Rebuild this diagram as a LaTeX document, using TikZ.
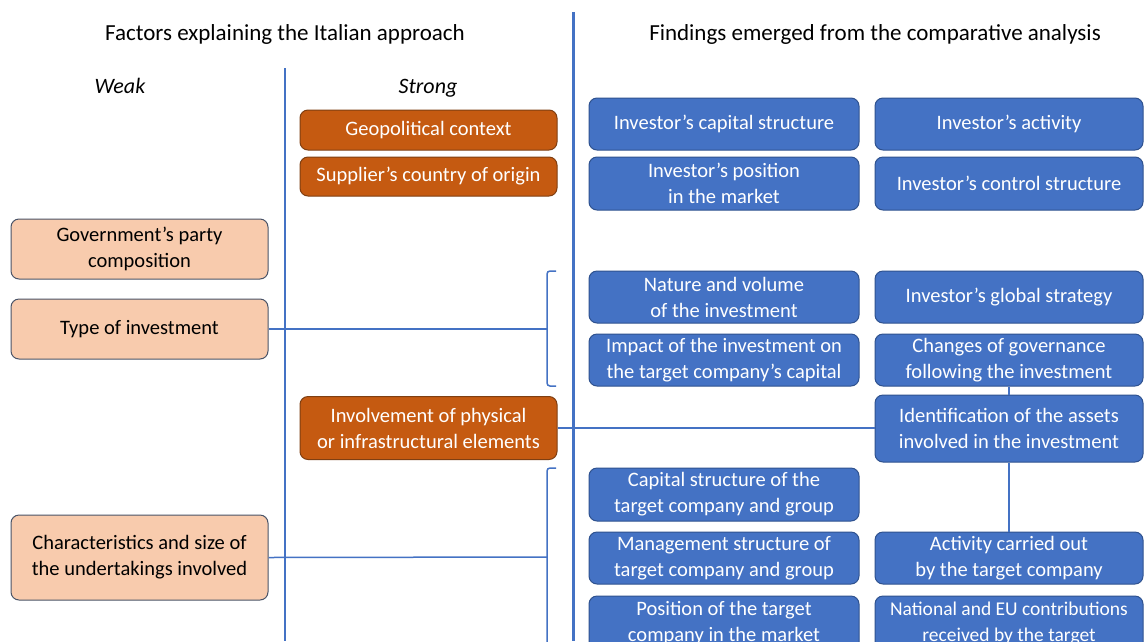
\documentclass[tikz,border=0pt]{standalone}
\usepackage{fontspec}
\setmainfont{Carlito}
\definecolor{fblue}{HTML}{4472C4}
\definecolor{dblue}{HTML}{2F528F}
\definecolor{forange}{HTML}{C55A11}
\definecolor{dorange}{HTML}{7F3F12}
\definecolor{fpeach}{HTML}{F8CBAD}
\definecolor{dpeach}{HTML}{4A5468}
\definecolor{lblue}{HTML}{4472C4}
\begin{document}
\begin{tikzpicture}[x=1pt,y=-1pt,
  basebox/.style={rounded corners=8pt, align=center, inner sep=2pt, line width=1pt,
    font=\fontsize{20.5}{26}\selectfont},
  bluebox/.style={basebox, fill=fblue, draw=dblue, text=white, minimum width=270pt},
  bluewide/.style={basebox, fill=fblue, draw=dblue, text=white, minimum width=268pt},
  orbox/.style={basebox, fill=forange, draw=dorange, text=white, minimum width=257pt},
  peachbox/.style={basebox, fill=fpeach, draw=dpeach, text=black, minimum width=257pt},
  conn/.style={draw=lblue, line width=1.5pt},
  heading/.style={font=\fontsize{23}{27}\selectfont, text=black},
  colhead/.style={font=\fontsize{22}{26}\selectfont\itshape, text=black, anchor=base}
]
\useasboundingbox (0,0) rectangle (1144,641);
\clip (0,0) rectangle (1144,641);
\fill[white] (0,0) rectangle (1144,641);

% headings
\node[heading] (hleft) at (285,34) {Factors explaining the Italian approach};
\node[heading] (hright) at (875,34) {Findings emerged from the comparative analysis};
\node[colhead] (weak) at (120,93) {Weak};
\node[colhead] (strong) at (428,93) {Strong};

% dividers
\coordinate (mdtop) at (573,12);
\coordinate (mdbot) at (573,641);
\coordinate (tdtop) at (285,68);
\coordinate (tdbot) at (285,641);
\draw[draw=lblue, line width=1.2pt] (tdtop) -- (tdbot);
\draw[draw=lblue, line width=3pt] (mdtop) -- (mdbot);

% left factor boxes
\node[orbox, minimum height=40pt] (geo) at (428.5,130) {Geopolitical context};
\node[orbox, minimum height=39pt] (sup) at (428.5,176.5) {Supplier’s country of origin};
\node[peachbox, minimum height=60pt] (gov) at (139.5,249) {Government’s party\\composition};
\node[peachbox, minimum height=60pt] (type) at (139.5,329) {Type of investment};
\node[orbox, minimum height=63pt] (inv) at (428.5,428) {Involvement of physical\\or infrastructural elements};
\node[peachbox, minimum height=85pt] (char) at (139.5,557.5) {Characteristics and size of\\the undertakings involved};

% brackets
\coordinate (b1tip) at (547,329);
\coordinate (b1a) at (556,271);
\coordinate (b1b) at (556,386);
\draw[conn, rounded corners=3pt] (b1a) -- (547,271) -- (547,386) -- (b1b);
\coordinate (b2tip) at (547,557);
\coordinate (b2a) at (556,468);
\draw[conn, rounded corners=3pt] (b2a) -- (547,468) -- (547,660);

% findings boxes
\node[bluebox, minimum height=52pt] (icap) at (724,124) {Investor’s capital structure};
\node[bluewide, minimum height=52pt] (iact) at (1009,124) {Investor’s activity};
\node[bluebox, minimum height=53pt] (ipos) at (724,183.5) {Investor’s position\\in the market};
\node[bluewide, minimum height=53pt] (ictl) at (1009,183.5) {Investor’s control structure};
\node[bluebox, minimum height=52pt] (nat) at (724,297) {Nature and volume\\of the investment};
\node[bluewide, minimum height=52pt] (glob) at (1009,297) {Investor’s global strategy};
\node[bluebox, minimum height=52pt] (imp) at (724,360) {Impact of the investment on\\the target company’s capital};
\node[bluewide, minimum height=52pt] (chg) at (1009,360) {Changes of governance\\following the investment};
\node[bluewide, minimum height=67pt] (ident) at (1009,428.5) {Identification of the assets\\involved in the investment};
\node[bluebox, minimum height=53pt] (tcap) at (724,494.5) {Capital structure of the\\target company and group};
\node[bluebox, minimum height=52pt] (mgmt) at (724,558) {Management structure of\\target company and group};
\node[bluewide, minimum height=52pt] (tact) at (1009,558) {Activity carried out\\by the target company};
\node[bluebox, minimum height=54pt] (tpos) at (724,623) {Position of the target\\company in the market};
\node[bluewide, minimum height=54pt, font=\fontsize{19.5}{26}\selectfont] (eu) at (1009,623) {National and EU contributions\\received by the target};

% connectors
\draw[conn] (type.east) -- (b1tip);
\draw[conn] (char.east) -- (b2tip);
\draw[conn] (inv.east) -- (inv.east -| ident.west);
\draw[conn] (chg.south) -- (ident.north);
\draw[conn] (ident.south) -- (tact.north);
\end{tikzpicture}
\end{document}
